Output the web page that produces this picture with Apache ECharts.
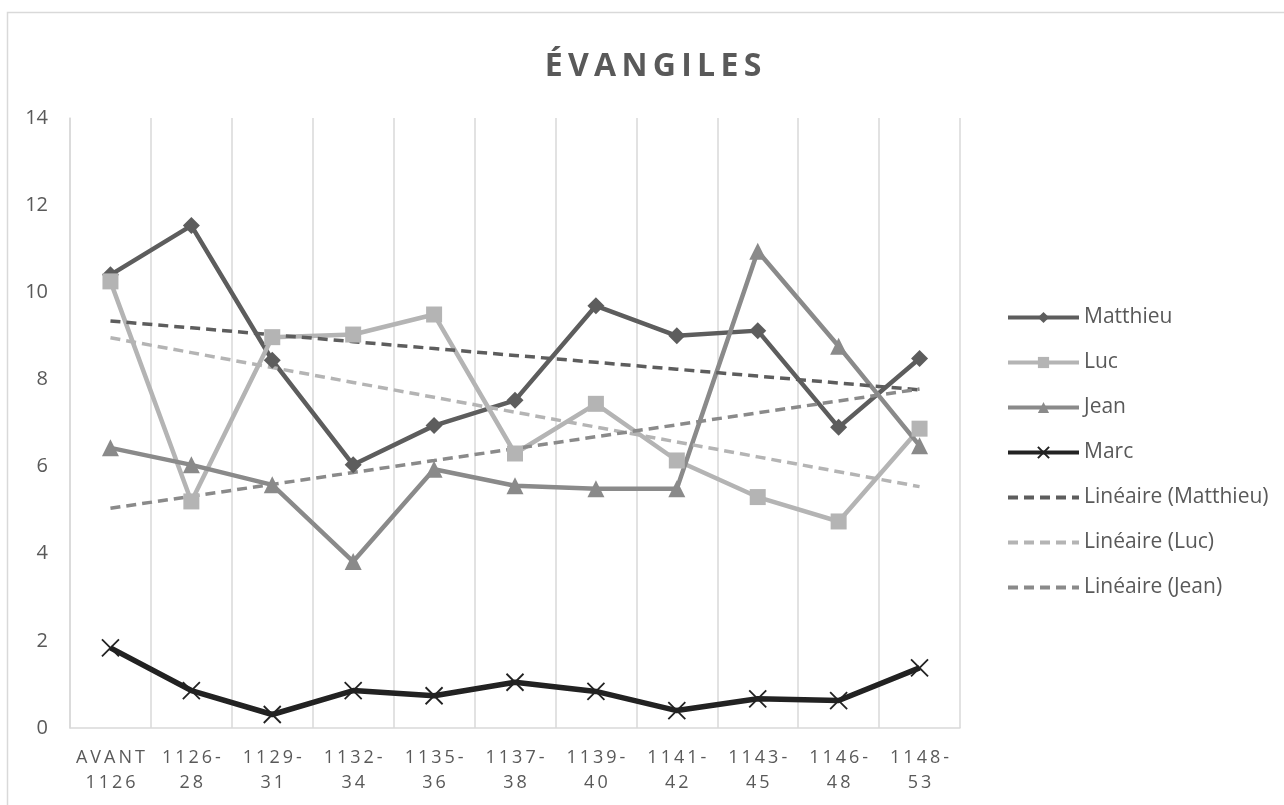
<!DOCTYPE html>
<html>
<head>
<meta charset="utf-8">
<title>Évangiles</title>
<script src="https://cdn.jsdelivr.net/npm/echarts@6/dist/echarts.min.js"></script>
<style>
	html, body { margin: 0; padding: 0; background: #fff; }
	#chart { width: 1284px; height: 805px; }
</style>
</head>
<body>
<div id="chart"></div>
<script>
var categories = ['AVANT\n1126', '1126-\n28', '1129-\n31', '1132-\n34', '1135-\n36', '1137-\n38', '1139-\n40', '1141-\n42', '1143-\n45', '1146-\n48', '1148-\n53'];
var matthieu = [10.4, 11.53, 8.44, 6.04, 6.94, 7.52, 9.69, 9.0, 9.12, 6.9, 8.48];
var luc = [10.25, 5.2, 8.97, 9.03, 9.49, 6.3, 7.44, 6.14, 5.3, 4.74, 6.87];
var jean = [6.43, 6.04, 5.58, 3.82, 5.94, 5.56, 5.49, 5.49, 10.94, 8.76, 6.48];
var marc = [1.84, 0.86, 0.31, 0.86, 0.74, 1.05, 0.84, 0.40, 0.67, 0.63, 1.38];
var yTicks = [0, 2, 4, 6, 8, 10, 12, 14];

// linear trendline (least squares), like Excel
function linear(vals) {
	var n = vals.length, sx = 0, sy = 0, sxy = 0, sxx = 0;
	vals.forEach(function(v, i) {
		var x = i + 1;
		sx += x; sy += v; sxy += x * v; sxx += x * x;
	});
	var b = (n * sxy - sx * sy) / (n * sxx - sx * sx);
	var a = (sy - b * sx) / n;
	return vals.map(function(v, i) { return +(a + b * (i + 1)).toFixed(3); });
}

// spaced-out axis labels
function spaced(s) {
	return s.split('\n').map(function(line) {
		return line.split('').join('\u2009');
	}).join('\n');
}

var chart = echarts.init(document.getElementById('chart'));

var cross = 'path://M0,0L10,10M10,0L0,10';
var dash = [10, 6];

option = {
	backgroundColor: '#fff',
	animation: false,
	textStyle: { fontFamily: 'Open Sans' },
	graphic: [{
		type: 'rect',
		shape: { x: 7.5, y: 12.5, width: 1300, height: 820 },
		style: { fill: 'none', stroke: '#d9d9d9', lineWidth: 1.5 },
		silent: true
	}],
	title: {
		text: 'É\u2009V\u2009A\u2009N\u2009G\u2009I\u2009L\u2009E\u2009S',
		left: 648,
		top: 46,
		textAlign: 'center',
		textStyle: { fontSize: 32, fontWeight: 'bold', color: '#595959', fontFamily: 'Open Sans' }
	},
	legend: {
		orient: 'vertical',
		left: 1001,
		top: 302,
		itemWidth: 71,
		itemHeight: 14,
		itemGap: 24,
		lineStyle: { width: 4 },
		textStyle: { fontSize: 21, color: '#595959' },
		data: ['Matthieu', 'Luc', 'Jean', 'Marc', 'Linéaire (Matthieu)', 'Linéaire (Luc)', 'Linéaire (Jean)']
	},
	grid: { left: 70, right: 324, top: 118, bottom: 77, containLabel: false },
	xAxis: {
		type: 'category',
		data: categories,
		boundaryGap: true,
		axisLine: { lineStyle: { color: '#d9d9d9', width: 1.5 } },
		axisTick: { show: false },
		axisLabel: {
			interval: 0,
			color: '#595959',
			fontSize: 18,
			lineHeight: 25,
			margin: 17,
			formatter: function(v) { return spaced(v); }
		},
		splitLine: { show: true, interval: 0, lineStyle: { color: '#d9d9d9', width: 1.5 } }
	},
	yAxis: {
		type: 'value',
		min: yTicks[0],
		max: yTicks[yTicks.length - 1],
		interval: 2,
		axisLine: { show: true, lineStyle: { color: '#d9d9d9', width: 1.5 } },
		axisTick: { show: false },
		splitLine: { show: false },
		axisLabel: { color: '#595959', fontSize: 20, margin: 22 }
	},
	series: [
		{
			name: 'Matthieu', type: 'line', data: matthieu,
			symbol: 'diamond', symbolSize: 17,
			lineStyle: { color: '#5d5d5d', width: 4.5 },
			itemStyle: { color: '#5d5d5d' }
		},
		{
			name: 'Luc', type: 'line', data: luc,
			symbol: 'rect', symbolSize: 16,
			lineStyle: { color: '#b4b4b4', width: 4.5 },
			itemStyle: { color: '#b4b4b4' }
		},
		{
			name: 'Jean', type: 'line', data: jean,
			symbol: 'triangle', symbolSize: 17,
			lineStyle: { color: '#8a8a8a', width: 4.5 },
			itemStyle: { color: '#8a8a8a' }
		},
		{
			name: 'Marc', type: 'line', data: marc,
			symbol: cross, symbolSize: 17,
			lineStyle: { color: '#222', width: 5.5 },
			itemStyle: { color: '#222', borderColor: '#222', borderWidth: 1.8 }
		},
		{
			name: 'Linéaire (Matthieu)', type: 'line', data: linear(matthieu),
			symbol: 'circle', showSymbol: false,
			lineStyle: { color: '#5d5d5d', width: 3.5, type: dash },
			itemStyle: { color: 'rgba(0,0,0,0)', borderWidth: 0 }
		},
		{
			name: 'Linéaire (Luc)', type: 'line', data: linear(luc),
			symbol: 'circle', showSymbol: false,
			lineStyle: { color: '#b4b4b4', width: 3.5, type: dash },
			itemStyle: { color: 'rgba(0,0,0,0)', borderWidth: 0 }
		},
		{
			name: 'Linéaire (Jean)', type: 'line', data: linear(jean),
			symbol: 'circle', showSymbol: false,
			lineStyle: { color: '#8a8a8a', width: 3.5, type: dash },
			itemStyle: { color: 'rgba(0,0,0,0)', borderWidth: 0 }
		}
	]
};

chart.setOption(option);
</script>
</body>
</html>
